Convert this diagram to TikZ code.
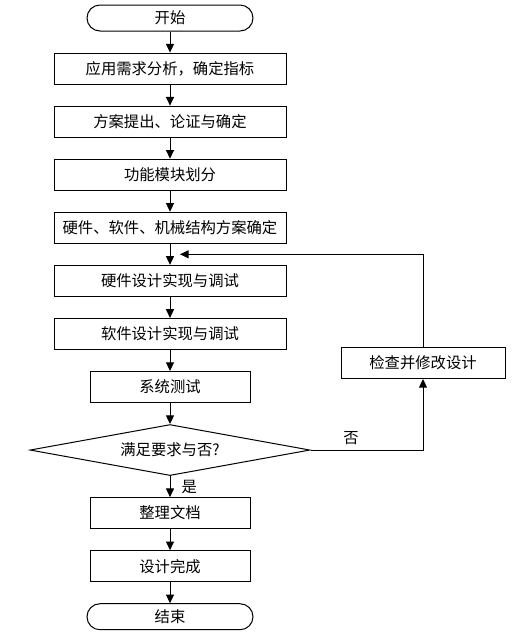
\documentclass[tikz,border=0pt]{standalone}
\usepackage{fontspec}
\setmainfont{Noto Sans CJK SC}
\usetikzlibrary{positioning}
\usetikzlibrary{calc}
\usetikzlibrary{shapes.geometric}
\usetikzlibrary{arrows.meta}

\begin{document}
\begin{tikzpicture}[x=0.75pt, y=-0.75pt, line width=0.75pt, font=\fontsize{11.5pt}{13pt}\selectfont,
  widebox/.style={rectangle, draw=black, minimum width=174pt, minimum height=23.25pt, inner sep=2pt},
  narrowbox/.style={widebox, minimum width=120pt},
  termnode/.style={rectangle, rounded corners=9.75pt, draw=black, minimum width=124.5pt, minimum height=19.5pt},
  decnode/.style={diamond, draw=black, aspect=5.5, minimum width=210pt, minimum height=38.25pt, inner sep=0pt},
  node distance=15.8pt, >={Triangle[length=6.5pt,width=6pt]}, align=center]
			\useasboundingbox (0,0) rectangle (519,637);
			\node[termnode] (start) at (170,18) {开始};
			\node[widebox] (req) [below= of start] {应用需求分析，确定指标};
			\node[widebox] (plan) [below= of req] {方案提出、论证与确定};
			\node[widebox] (mods) [below= of plan] {功能模块划分};
			\node[widebox] (scheme) [below= of mods] {硬件、软件、机械结构方案确定};
			\node[widebox] (hw) [below= of scheme] {硬件设计实现与调试};
			\node[widebox] (sw) [below= of hw] {软件设计实现与调试};
			\node[narrowbox] (systest) [below= of sw] {系统测试};
			\node[decnode] (check) [below= of systest] {满足要求与否?};
			\node[narrowbox] (docs) [below= of check] {整理文档};
			\node[narrowbox] (done) [below= of docs] {设计完成};
			\node[termnode] (stop) [below= of done] {结束};
			\node[widebox, minimum width=123pt] (fix) at (423,363) {检查并修改设计};
			\coordinate (join) at ($(scheme.south)!0.5!(hw.north)$);
			\draw[->] (start.south) -- (req.north);
			\draw[->] (req.south) -- (plan.north);
			\draw[->] (plan.south) -- (mods.north);
			\draw[->] (mods.south) -- (scheme.north);
			\draw[->] (scheme.south) -- (hw.north);
			\draw[->] (hw.south) -- (sw.north);
			\draw[->] (sw.south) -- (systest.north);
			\draw[->] (systest.south) -- (check.north);
			\draw[->] (check.south) -- node[right=5pt] {是} (docs.north);
			\draw[->] (docs.south) -- (done.north);
			\draw[->] (done.south) -- (stop.north);
			\draw[->] (check.east) -| node[pos=0.18, above] {否} (fix.south);
			\draw[->] (fix.north) |- ([xshift=7.5pt]join);
		\end{tikzpicture}
\end{document}
